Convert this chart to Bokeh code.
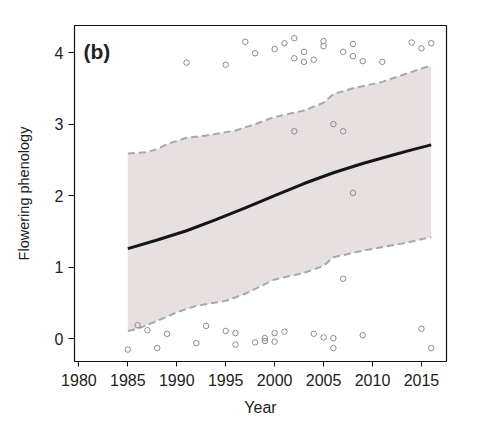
from bokeh.plotting import figure
from bokeh.models import Range1d, FixedTicker, Label, ColumnDataSource
from bokeh.embed import file_html
from bokeh.resources import INLINE

# --- data ---
mean_years = [1985, 1988, 1991, 1994, 1997, 2000, 2003, 2006, 2009, 2012, 2014, 2016]
mean_vals = [1.26, 1.38, 1.51, 1.665, 1.83, 2.00, 2.17, 2.32, 2.45, 2.565, 2.64, 2.71]

upper_years = [1985, 1987, 1988, 1989, 1991, 1993, 1996, 1998, 2000, 2003, 2005, 2006, 2008, 2011, 2014, 2016]
upper_vals = [2.59, 2.61, 2.65, 2.72, 2.81, 2.84, 2.91, 3.00, 3.10, 3.19, 3.30, 3.42, 3.50, 3.59, 3.73, 3.82]

lower_years = [1985, 1986, 1988, 1990, 1992, 1995, 1997, 2000, 2003, 2005, 2006, 2009, 2013, 2016]
lower_vals = [0.11, 0.14, 0.25, 0.37, 0.46, 0.53, 0.63, 0.83, 0.92, 1.02, 1.14, 1.23, 1.33, 1.42]

obs_years = [1991, 1995, 1997, 1998, 2000, 2001, 2002, 2002, 2003, 2003, 2004, 2005, 2005,
             2007, 2008, 2008, 2009, 2011, 2014, 2015, 2016,
             2002, 2006, 2007, 2008, 2007,
             1985, 1986, 1987, 1988, 1989, 1992, 1993, 1995, 1996, 1996, 1998, 1999, 1999,
             2000, 2000, 2001, 2004, 2005, 2006, 2006, 2009, 2015, 2016]
obs_vals = [3.86, 3.83, 4.15, 3.99, 4.05, 4.13, 4.20, 3.92, 4.01, 3.87, 3.90, 4.16, 4.09,
            4.01, 4.12, 3.95, 3.88, 3.87, 4.14, 4.06, 4.13,
            2.90, 3.00, 2.90, 2.04, 0.84,
            -0.15, 0.19, 0.12, -0.13, 0.07, -0.06, 0.18, 0.11, 0.08, -0.08, -0.05, 0.01, -0.03,
            0.08, -0.04, 0.10, 0.07, 0.02, 0.01, -0.13, 0.05, 0.14, -0.13]

x_ticks = [1980, 1985, 1990, 1995, 2000, 2005, 2010, 2015]
y_ticks = [0, 1, 2, 3, 4]

FONT = "Liberation Sans"

p = figure(width=473, height=425, output_backend="svg", toolbar_location=None,
           x_range=Range1d(1979.55, 2017.56), y_range=Range1d(-0.317, 4.378),
           min_border_left=74, min_border_right=27, min_border_top=25, min_border_bottom=64)

p.background_fill_color = "white"
p.border_fill_color = "white"
p.outline_line_color = "#111111"
p.outline_line_width = 1.2
p.xgrid.visible = False
p.ygrid.visible = False

# band
band_x = upper_years + lower_years[::-1]
band_y = upper_vals + lower_vals[::-1]
p.patch(band_x, band_y, fill_color="#e7dfe0", line_color=None)
p.line(upper_years, upper_vals, line_color="#a8a8a8", line_width=2, line_dash="7 4")
p.line(lower_years, lower_vals, line_color="#a8a8a8", line_width=2, line_dash="7 4")

# mean line
p.line(mean_years, mean_vals, line_color="#151515", line_width=3)

# observations
src = ColumnDataSource(dict(x=obs_years, y=obs_vals))
p.scatter("x", "y", source=src, marker="circle", size=5.5, fill_color=None,
          line_color="#8c8c8c", line_width=1)

# axes
for ax in (p.xaxis[0], p.yaxis[0]):
    ax.axis_line_color = None
    ax.major_tick_in = 0
    ax.minor_tick_line_color = None
    ax.major_tick_line_color = "#111111"
    ax.major_label_text_font = FONT
    ax.major_label_text_font_size = "16px"
    ax.major_label_text_color = "#222222"
    ax.axis_label_text_font = FONT
    ax.axis_label_text_font_size = "15px"
    ax.axis_label_text_font_style = "normal"
    ax.axis_label_text_color = "#222222"

p.xaxis.ticker = FixedTicker(ticks=x_ticks)
p.yaxis.ticker = FixedTicker(ticks=y_ticks)
p.xaxis.major_tick_out = 5
p.yaxis.major_tick_out = 6
p.xaxis.major_label_standoff = 7
p.yaxis.major_label_standoff = 5
p.xaxis.axis_label = "Year"
p.yaxis.axis_label = "Flowering phenology"
p.xaxis.axis_label_standoff = 10
p.yaxis.axis_label_standoff = 20
p.xaxis.axis_label_text_font_size = "16px"
p.yaxis.axis_label_text_font_size = "14.5px"

p.add_layout(Label(x=9, y=310, x_units="screen", y_units="screen", text="(b)",
                   text_font=FONT, text_font_size="21px", text_font_style="bold",
                   text_color="#222222", text_baseline="middle", text_align="left"))

open("out.html", "w").write(file_html(p, INLINE))
